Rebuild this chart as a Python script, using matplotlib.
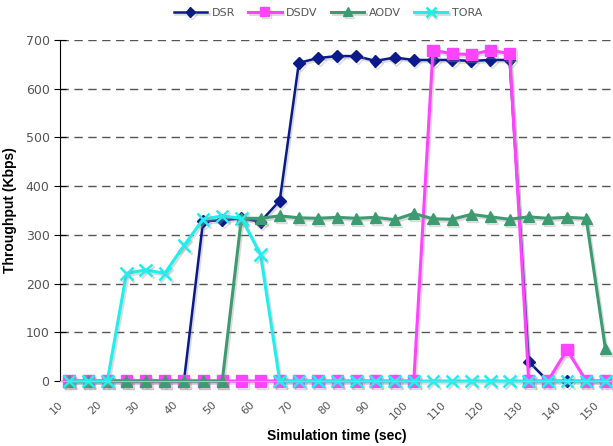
import numpy as np
import matplotlib
matplotlib.use('Agg')
import matplotlib.pyplot as plt
import matplotlib.patheffects as pe
import matplotlib.transforms as mtransforms

# simulation time, every 5 sec
times = list(range(10, 155, 5))

dsr = [0, 0, 0, 0, 0, 0, 0, 328, 330, 334, 327, 370, 653, 663, 667, 667,
       657, 664, 659, 659, 659, 657, 659, 659, 40, 0, 0, 0, 0]
dsdv = [0, 0, 0, 0, 0, 0, 0, 0, 0, 0, 0, 0, 0, 0, 0, 0,
        0, 0, 0, 679, 672, 670, 679, 672, 0, 0, 64, 0, 0]
aodv = [0, 0, 0, 0, 0, 0, 0, 0, 0, 334, 334, 339, 335, 334, 336, 334,
        336, 331, 344, 333, 332, 342, 337, 332, 337, 334, 336, 334, 67]
tora = [0, 0, 0, 221, 228, 221, 278, 332, 339, 334, 260, 0, 0, 0, 0, 0,
        0, 0, 0, 0, 0, 0, 0, 0, 0, 0, 0, 0, 0]

series = [
    ('DSR', dsr, '#0B1A8A', 'D', 6, 1.8),
    ('DSDV', dsdv, '#FF44FF', 's', 8, 2.2),
    ('AODV', aodv, '#3D9B72', '^', 8, 2.2),
    ('TORA', tora, '#22EEEE', 'x', 9, 2.2),
]

fig = plt.figure(figsize=(6.13, 4.46), dpi=100)
ax = fig.add_axes([60 / 613, 65 / 446, 553 / 613, 341 / 446])

x = np.arange(len(times))
shadow = [pe.SimpleLineShadow(offset=(1.2, -1.5), shadow_color='#999999', alpha=0.35), pe.Normal()]
for name, vals, col, mk, ms, lw in series:
    ax.plot(x, vals, color=col, marker=mk, markersize=ms, linewidth=lw,
            markeredgewidth=1.8 if mk == 'x' else 1, markeredgecolor=col,
            label=name, clip_on=False, path_effects=shadow)

ax.set_xlim(-0.47, len(times) - 0.6)
ax.set_ylim(0, 700)
ax.set_yticks(range(0, 701, 100))
ax.yaxis.grid(True, linestyle=(0, (6, 4)), color='#555555', linewidth=1)
ax.set_axisbelow(True)

ax.set_xticks(x[::2])
ax.set_xticklabels([str(t) for t in times[::2]], rotation=45, ha='right',
                   rotation_mode='anchor', color='#555555', fontsize=8)
ax.tick_params(axis='x', length=0, pad=13)
shift = mtransforms.ScaledTranslation(-0.11, 0, fig.dpi_scale_trans)
for lbl in ax.get_xticklabels():
    lbl.set_transform(lbl.get_transform() + shift)
ax.tick_params(axis='y', direction='inout', length=8, color='black',
               labelcolor='#555555', labelsize=9)

for s in ['top', 'right']:
    ax.spines[s].set_visible(False)
ax.spines['left'].set_color('black')
ax.spines['bottom'].set_color('#BBBBBB')

ax.set_xlabel('Simulation time (sec)', fontweight='bold', fontsize=10,
              family='Liberation Sans', labelpad=6)
ax.set_ylabel('Throughput (Kbps)', fontweight='bold', fontsize=10,
              family='Liberation Sans', labelpad=6)

leg = fig.legend(loc='upper center', bbox_to_anchor=(0.535, 1.005), ncol=4,
                 frameon=False, fontsize=8, handlelength=3, columnspacing=1.2,
                 handletextpad=0.4, markerscale=0.8)
for t in leg.get_texts():
    t.set_color('#555555')

fig.savefig('out.png', dpi=100)
